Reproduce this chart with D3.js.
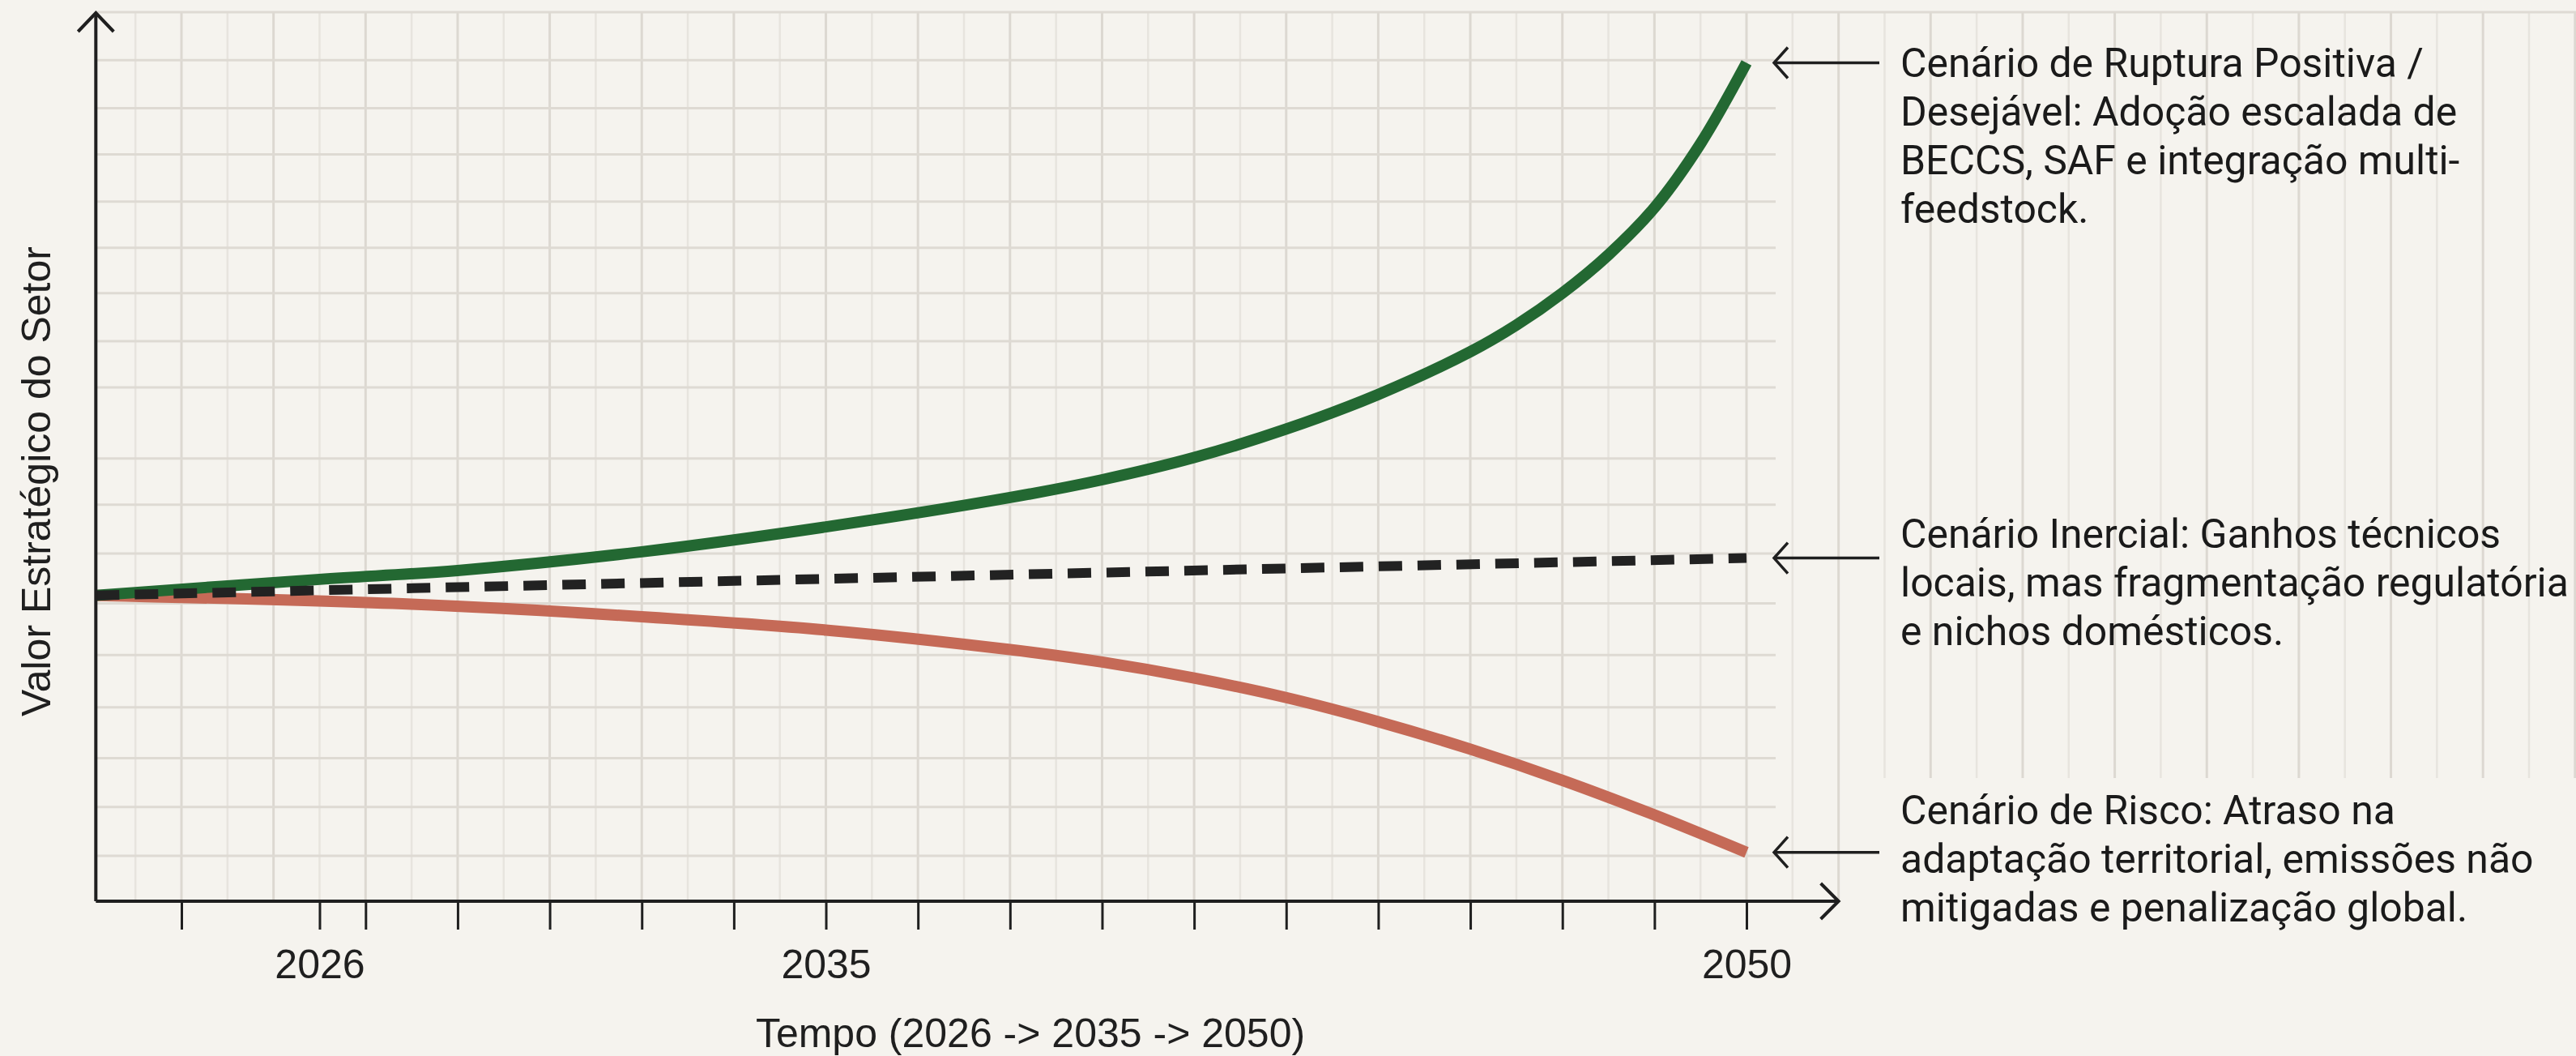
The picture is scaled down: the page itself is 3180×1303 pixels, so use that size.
<!DOCTYPE html>
<html><head><meta charset="utf-8">
<script src="https://cdn.jsdelivr.net/npm/d3@7/dist/d3.min.js"></script>
<style>html,body{margin:0;padding:0;background:#f5f3ee;} svg{display:block}</style>
</head><body>
<svg id="chart" width="3180" height="1303"></svg>
<script>
// ---- data (x in timeline steps, y in strategic value index) ----
const positiveX = [-0.93, 1.5, 3, 5, 7, 9, 10, 11, 12, 13, 14, 14.5, 15, 15.5, 16, 16.5, 17];
const positiveY = [34.4, 36.2, 37.2, 39.3, 42.1, 45.4, 47.4, 49.9, 53.1, 57.0, 61.8, 64.8, 68.4, 72.7, 78.0, 85.2, 94.3];
const inertialX = [-0.93, 17];
const inertialY = [34.4, 38.6];
const riskX = [-0.93, 2.5, 5, 7, 9, 10, 11, 12, 13, 14, 15, 16, 17];
const riskY = [34.4, 33.4, 32.0, 30.5, 28.3, 26.9, 25.1, 22.9, 20.2, 17.1, 13.6, 9.7, 5.5];

const tickSteps = [0, 1.5, 2, 3, 4, 5, 6, 7, 8, 9, 10, 11, 12, 13, 14, 15, 16, 17];
const labelSteps = [1.5, 7, 17];
const labelTexts = ["2026", "2035", "2050"];
const gridLevels = [5.1, 10.6, 16.1, 21.8, 27.7, 33.5, 39.1, 44.6, 49.8, 57.8, 63.0, 68.4, 73.5, 78.7, 84.0, 89.2, 94.6, 100];

const xTitle = "Tempo (2026 -> 2035 -> 2050)";
const yTitle = "Valor Estratégico do Setor";
const notePositive = ["Cenário de Ruptura Positiva /", "Desejável: Adoção escalada de", "BECCS, SAF e integração multi-", "feedstock."];
const noteInertial = ["Cenário Inercial: Ganhos técnicos", "locais, mas fragmentação regulatória", "e nichos domésticos."];
const noteRisk = ["Cenário de Risco: Atraso na", "adaptação territorial, emissões não", "mitigadas e penalização global."];

// ---- setup ----
const W = 3180, H = 1303;
const svg = d3.select("#chart");
svg.append("rect").attr("width", W).attr("height", H).attr("fill", "#f5f3ee");

const x = d3.scaleLinear().domain([0, 17]).range([224, 2156]);
const y = d3.scaleLinear().domain([0, 100]).range([1112, 15]);
const x0 = x(-0.93), y0 = y(0);
const ink = "#1f1f1f";

// ---- grid ----
const grid = svg.append("g");
const vSteps = d3.range(-0.5, 26.01, 0.5);
grid.selectAll("line.v").data(vSteps).join("line")
  .attr("x1", d => x(d)).attr("x2", d => x(d))
  .attr("y1", y(100))
  .attr("y2", d => d <= 18 ? y0 : 960)
  .attr("stroke", d => Number.isInteger(d) ? "#dcd8d1" : "#e7e4de")
  .attr("stroke-width", d => Number.isInteger(d) ? 3 : 2.5);
grid.selectAll("line.h").data(gridLevels).join("line")
  .attr("x1", x0).attr("x2", d => d === 100 ? W : 2192)
  .attr("y1", d => y(d)).attr("y2", d => y(d))
  .attr("stroke", "#dedad3").attr("stroke-width", 3);

// ---- series ----
const line = d3.line().x(d => x(d[0])).y(d => y(d[1])).curve(d3.curveCatmullRom.alpha(0.5));
const zipS = (xs, ys) => xs.map((v, i) => [v, ys[i]]);
const series = [
  {pts: zipS(riskX, riskY), color: "#c56a57", w: 14, dash: null},
  {pts: zipS(positiveX, positiveY), color: "#236832", w: 14, dash: null},
  {pts: zipS(inertialX, inertialY), color: "#222222", w: 12, dash: "29,19"}
];
series.forEach(s => {
  svg.append("path").attr("d", line(s.pts))
    .attr("fill", "none").attr("stroke", s.color)
    .attr("stroke-width", s.w)
    .attr("stroke-dasharray", s.dash);
});

// ---- axes ----
const xAxis = d3.axisBottom(x).tickValues(tickSteps)
  .tickFormat(d => { const i = labelSteps.indexOf(d); return i >= 0 ? labelTexts[i] : ""; })
  .tickSize(35).tickPadding(24).tickSizeOuter(0);
const gx = svg.append("g").attr("transform", `translate(0,${y0})`).call(xAxis);
gx.select(".domain").remove();
gx.selectAll(".tick line").attr("stroke", ink).attr("stroke-width", 3);
gx.selectAll(".tick text").attr("fill", ink)
  .style("font-family", "'Liberation Sans', Arial, sans-serif").style("font-size", "50px");

const xEnd = x(18.0), yTop = y(100) + 1;
svg.append("line").attr("x1", x0).attr("x2", xEnd).attr("y1", y0).attr("y2", y0)
  .attr("stroke", ink).attr("stroke-width", 4);
svg.append("polyline").attr("points", `${xEnd-22},${y0-22} ${xEnd},${y0} ${xEnd-22},${y0+22}`)
  .attr("fill", "none").attr("stroke", ink).attr("stroke-width", 4);
svg.append("line").attr("x1", x0).attr("x2", x0).attr("y1", y0).attr("y2", yTop)
  .attr("stroke", ink).attr("stroke-width", 4);
svg.append("polyline").attr("points", `${x0-22},${yTop+23} ${x0},${yTop} ${x0+22},${yTop+23}`)
  .attr("fill", "none").attr("stroke", ink).attr("stroke-width", 4);

// axis titles
svg.append("text").text(xTitle)
  .attr("x", 1272).attr("y", 1275).attr("text-anchor", "middle").attr("dominant-baseline", "central")
  .attr("fill", ink).style("font-family", "'Liberation Sans', Arial, sans-serif").style("font-size", "50px");
svg.append("text").text(yTitle)
  .attr("transform", "translate(45,594) rotate(-90)").attr("text-anchor", "middle").attr("dominant-baseline", "central")
  .attr("fill", ink).style("font-family", "'Liberation Sans', Arial, sans-serif").style("font-size", "50px");

// ---- annotations ----
const notes = [
  {lines: notePositive, yEnd: y(positiveY[positiveY.length-1]), first: 0},
  {lines: noteInertial, yEnd: y(inertialY[inertialY.length-1]), first: -30},
  {lines: noteRisk, yEnd: y(riskY[riskY.length-1]), first: -52}
];
const ax1 = x(17) + 34, ax2 = x(17) + 164, tx = 2346, lh = 60;
const g = svg.append("g").style("font-family", "Roboto, 'Noto Sans', sans-serif").attr("fill", "#1a1a1a");
notes.forEach(n => {
  svg.append("line").attr("x1", ax1).attr("x2", ax2).attr("y1", n.yEnd).attr("y2", n.yEnd)
    .attr("stroke", ink).attr("stroke-width", 3.5);
  svg.append("polyline").attr("points", `${ax1+17},${n.yEnd-19} ${ax1},${n.yEnd} ${ax1+17},${n.yEnd+19}`)
    .attr("fill", "none").attr("stroke", ink).attr("stroke-width", 3.5);
  n.lines.forEach((t, i) => {
    g.append("text").text(t).attr("x", tx).attr("y", n.yEnd + n.first + i * lh)
      .attr("dominant-baseline", "central").style("font-size", "46px");
  });
});
// fit annotation font so the widest line spans the reference width
let maxW = 0;
g.selectAll("text").each(function(){ maxW = Math.max(maxW, this.getComputedTextLength()); });
const fs = 46 * 825 / maxW;
g.selectAll("text").style("font-size", fs.toFixed(1) + "px");
</script>
</body></html>
